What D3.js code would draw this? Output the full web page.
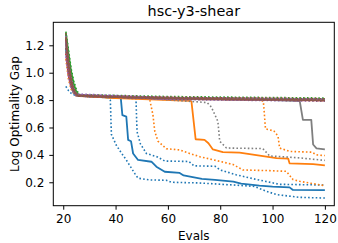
<!DOCTYPE html>
<html lang="en">
<head>
  <meta charset="UTF-8">
  <title>hsc-y3-shear</title>
  <script src="https://d3js.org/d3.v7.min.js"></script>
  <style>
    body {
      margin: 0;
      background: #fff;
      font-family: "DejaVu Sans", sans-serif;
    }
    .axis text {
      font-family: "DejaVu Sans", sans-serif;
      font-size: 12px;
      fill: #000;
    }
    .axis path, .axis line {
      stroke: #000;
      stroke-width: 1;
    }
  </style>
</head>
<body>
  <div id="chart"></div>

  <script>
    const evalTicks = [20, 40, 60, 80, 100, 120];
    const gapTicks = [0.2, 0.4, 0.6, 0.8, 1.0, 1.2];

    // [evals, log optimality gap] breakpoints
    const blueMed = [[21,1.18],[22,1.00],[23,0.90],[24,0.85],[25,0.835],[30,0.825],[42,0.815],[42.6,0.69],[44.1,0.68],[44.8,0.51],[45.9,0.50],[46.7,0.41],[48.6,0.363],[53.7,0.35],[55.6,0.314],[58.8,0.277],[64.5,0.268],[66,0.25],[70,0.235],[73,0.225],[78,0.217],[85,0.205],[88,0.19],[95,0.175],[100,0.168],[106.5,0.163],[107.8,0.144],[120,0.142]];
    const blueLo = [[21,0.90],[22,0.87],[23,0.85],[24,0.84],[25,0.83],[37,0.82],[38,0.80],[38.4,0.55],[40.3,0.47],[42,0.42],[44.1,0.363],[47.3,0.265],[48.6,0.23],[53,0.217],[59.4,0.215],[61.3,0.20],[72,0.195],[85,0.18],[93,0.17],[97.6,0.135],[101.5,0.11],[110.4,0.09],[120,0.085]];
    const blueHi = [[21,1.26],[22,1.06],[23,0.94],[24,0.87],[25,0.84],[35,0.825],[47.8,0.81],[48.2,0.57],[49.5,0.48],[51.8,0.41],[56,0.385],[58.8,0.355],[68,0.352],[70,0.32],[78,0.317],[80,0.29],[86,0.255],[94,0.22],[102.7,0.185],[120,0.18]];

    const orangeMed = [[21,1.27],[22,1.08],[23,0.94],[24,0.87],[25,0.835],[40,0.815],[68.5,0.795],[69,0.79],[70.6,0.514],[74,0.51],[75.5,0.485],[77.2,0.44],[81,0.42],[87.4,0.416],[93.8,0.398],[101.5,0.376],[106,0.372],[106.5,0.338],[115.5,0.333],[120,0.324]];
    const orangeLo = [[21,1.10],[22,0.95],[23,0.88],[24,0.85],[25,0.83],[40,0.815],[53,0.81],[54.3,0.69],[55,0.57],[56.2,0.50],[59.4,0.445],[64.5,0.436],[68.3,0.41],[72.2,0.387],[84.9,0.33],[88.7,0.29],[98.9,0.285],[105.3,0.28],[107.8,0.22],[110.4,0.207],[120,0.175]];
    const orangeHi = [[21,1.28],[22,1.10],[23,0.96],[24,0.88],[25,0.84],[50,0.82],[95.5,0.80],[96.5,0.79],[97.3,0.59],[100.5,0.575],[102.1,0.536],[102.7,0.45],[106.5,0.425],[115,0.42],[116.8,0.40],[120,0.395]];

    const grayMed = [[21,1.22],[22,1.03],[23,0.92],[24,0.86],[25,0.835],[60,0.81],[100,0.80],[110.4,0.792],[111.6,0.656],[114.8,0.656],[115.5,0.476],[116.8,0.448],[120,0.44]];
    const grayLo = [[21,1.16],[22,0.99],[23,0.90],[24,0.855],[25,0.83],[50,0.815],[69,0.79],[75,0.782],[76.6,0.75],[79.1,0.645],[79.8,0.50],[82.4,0.45],[96.3,0.446],[98.9,0.392],[110.4,0.378],[120,0.36]];
    const grayHi = [[21,1.27],[22,1.08],[23,0.95],[24,0.88],[25,0.84],[26,0.832],[60,0.818],[120,0.805]];

    const greenMed = [[21,1.29],[22,1.14],[23,1.01],[24,0.92],[25,0.86],[26,0.835],[60,0.815],[120,0.805]];
    const greenLo = [[21,1.21],[22,1.04],[23,0.94],[24,0.88],[25,0.845],[26,0.83],[60,0.81],[120,0.798]];
    const greenHi = [[21,1.30],[22,1.17],[23,1.03],[24,0.94],[25,0.88],[26,0.84],[60,0.826],[120,0.815]];

    const redMed = [[21,1.24],[22,1.05],[23,0.93],[24,0.87],[25,0.84],[26,0.83],[60,0.812],[120,0.802]];
    const redLo = [[21,1.14],[22,0.98],[23,0.90],[24,0.86],[25,0.835],[60,0.808],[120,0.796]];
    const redHi = [[21,1.28],[22,1.10],[23,0.97],[24,0.89],[25,0.85],[26,0.835],[60,0.82],[120,0.81]];

    const purpleMed = [[21,1.23],[22,1.04],[23,0.93],[24,0.865],[25,0.838],[60,0.81],[120,0.80]];
    const purpleLo = [[21,1.12],[22,0.97],[23,0.89],[24,0.855],[25,0.832],[60,0.805],[120,0.792]];
    const purpleHi = [[21,1.27],[22,1.09],[23,0.96],[24,0.885],[25,0.845],[60,0.818],[120,0.808]];

    const brownMed = [[21,1.25],[22,1.06],[23,0.94],[24,0.87],[25,0.84],[26,0.832],[40,0.822],[70,0.81],[100,0.803],[120,0.798]];
    const brownLo = [[21,1.18],[22,1.01],[23,0.91],[24,0.86],[25,0.835],[60,0.808],[120,0.795]];
    const brownHi = [[21,1.29],[22,1.11],[23,0.97],[24,0.89],[25,0.85],[26,0.836],[60,0.82],[120,0.808]];

    const colors = {
      blue: "#1f77b4", orange: "#ff7f0e", green: "#2ca02c", red: "#d62728",
      purple: "#9467bd", brown: "#8c564b", gray: "#7f7f7f"
    };

    // draw order, bottom to top
    const lines = [
      {color: colors.blue, data: blueLo, dotted: true},
      {color: colors.blue, data: blueHi, dotted: true},
      {color: colors.blue, data: blueMed, dotted: false},
      {color: colors.orange, data: orangeLo, dotted: true},
      {color: colors.orange, data: orangeHi, dotted: true},
      {color: colors.orange, data: orangeMed, dotted: false},
      {color: colors.gray, data: grayLo, dotted: true},
      {color: colors.gray, data: grayHi, dotted: true},
      {color: colors.gray, data: grayMed, dotted: false},
      {color: colors.red, data: redLo, dotted: true},
      {color: colors.red, data: redHi, dotted: true},
      {color: colors.red, data: redMed, dotted: false},
      {color: colors.green, data: greenLo, dotted: true},
      {color: colors.green, data: greenHi, dotted: true},
      {color: colors.green, data: greenMed, dotted: false},
      {color: colors.purple, data: purpleLo, dotted: true},
      {color: colors.purple, data: purpleHi, dotted: true},
      {color: colors.purple, data: purpleMed, dotted: false},
      {color: colors.brown, data: brownLo, dotted: true},
      {color: colors.brown, data: brownHi, dotted: true},
      {color: colors.brown, data: brownMed, dotted: false}
    ];

    const W = 338, H = 243;
    const margin = {top: 22.3, right: 3.7, bottom: 37.3, left: 53.3};
    const width = W - margin.left - margin.right;
    const height = H - margin.top - margin.bottom;

    const svg = d3.select("#chart")
      .append("svg")
      .attr("width", W)
      .attr("height", H);

    const g = svg.append("g")
      .attr("transform", `translate(${margin.left},${margin.top})`);

    const x = d3.scaleLinear()
      .domain([16.2, 123.6])
      .range([0, width]);

    const y = d3.scaleLinear()
      .domain([0.029, 1.368])
      .range([height, 0]);

    g.append("clipPath")
      .attr("id", "clip")
      .append("rect")
      .attr("width", width)
      .attr("height", height);

    const line = d3.line()
      .x(d => x(d[0]))
      .y(d => y(d[1]));

    g.append("g")
      .attr("clip-path", "url(#clip)")
      .selectAll("path")
      .data(lines)
      .join("path")
      .attr("d", d => line(d.data))
      .attr("fill", "none")
      .attr("stroke", d => d.color)
      .attr("stroke-width", d => d.dotted ? 1.6 : 1.8)
      .attr("stroke-dasharray", d => d.dotted ? "1.6,2.2" : null)
      .attr("stroke-linejoin", "round");

    g.append("g")
      .attr("class", "axis")
      .attr("transform", `translate(0,${height})`)
      .call(d3.axisBottom(x).tickValues(evalTicks).tickSize(4).tickPadding(5).tickSizeOuter(0))
      .call(a => a.select(".domain").remove());

    g.append("g")
      .attr("class", "axis")
      .call(d3.axisLeft(y).tickValues(gapTicks).tickFormat(d3.format(".1f")).tickSize(4).tickPadding(5).tickSizeOuter(0))
      .call(a => a.select(".domain").remove());

    g.append("rect")
      .attr("width", width)
      .attr("height", height)
      .attr("fill", "none")
      .attr("stroke", "#000")
      .attr("stroke-width", 1);

    svg.append("text")
      .attr("x", margin.left + width / 2)
      .attr("y", 16)
      .attr("text-anchor", "middle")
      .style("font-size", "14.4px")
      .text("hsc-y3-shear");

    svg.append("text")
      .attr("x", margin.left + width / 2)
      .attr("y", 240)
      .attr("text-anchor", "middle")
      .style("font-size", "12px")
      .text("Evals");

    svg.append("text")
      .attr("transform", `translate(19,${margin.top + height / 2}) rotate(-90)`)
      .attr("text-anchor", "middle")
      .style("font-size", "12px")
      .text("Log Optimality Gap");
  </script>
</body>
</html>
